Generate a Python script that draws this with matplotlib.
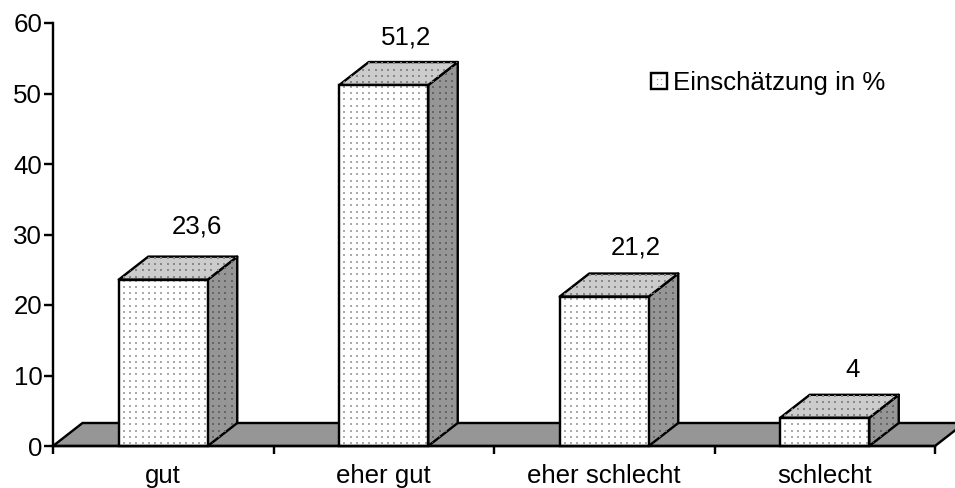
import numpy as np
import matplotlib
matplotlib.use("Agg")
import matplotlib.pyplot as plt
from matplotlib.patches import Polygon, Rectangle, Patch
from matplotlib.lines import Line2D
from matplotlib.legend_handler import HandlerBase

categories = ["gut", "eher gut", "eher schlecht", "schlecht"]
values = [23.6, 51.2, 21.2, 4]
value_labels = ["23,6", "51,2", "21,2", "4"]
yticks = [0, 10, 20, 30, 40, 50, 60]
series_name = "Einschätzung in %"

plt.rcParams["font.family"] = ["Liberation Sans", "DejaVu Sans"]
W, H = 955, 488
L, R, T, B = 53, 935, 23, 446
FS = 18.6
fig = plt.figure(figsize=(W / 100, H / 100), dpi=100)
ax = fig.add_axes([L / W, 1 - B / H, (R - L) / W, (B - T) / H])
ax.set_xlim(0, len(categories))
ax.set_ylim(0, 60)

px_x = (R - L) / len(categories)      # pixels per category
px_y = (B - T) / 60                   # pixels per value unit
dx, dy = 29.5 / px_x, 23 / px_y       # 3-D depth
bar_w = 89 / px_x
EDGE = 2.4 * 0.72
GREY = "#969696"
TOP = "#cccccc"

def dots(poly, x0, x1, y0, y1, color, z):
    xs = np.arange(x0 + 5 / px_x, x1, 6.25 / px_x)
    ys = np.arange(y0 + 3 / px_y, y1, 6.25 / px_y)
    gx, gy = np.meshgrid(xs, ys)
    s = ax.scatter(gx.ravel(), gy.ravel(), s=0.6, marker="s", color=color,
                   linewidths=0, zorder=z, clip_on=True)
    s.set_clip_path(poly)

# floor
floor = Polygon([(0, 0), (len(categories), 0), (len(categories) + dx, dy), (dx, dy)],
                closed=True, facecolor=GREY, edgecolor="black", lw=EDGE,
                clip_on=False, zorder=1, joinstyle="miter")
ax.add_patch(floor)

for i, v in enumerate(values):
    x0 = i + 0.5 - bar_w / 2
    x1 = x0 + bar_w
    side = Polygon([(x1, 0), (x1 + dx, dy), (x1 + dx, v + dy), (x1, v)], closed=True,
                   facecolor=GREY, edgecolor="black", lw=EDGE, clip_on=False, zorder=2,
                   joinstyle="round")
    top = Polygon([(x0, v), (x1, v), (x1 + dx, v + dy), (x0 + dx, v + dy)], closed=True,
                  facecolor=TOP, edgecolor="black", lw=EDGE, clip_on=False, zorder=2,
                  joinstyle="round")
    ax.add_patch(side)
    ax.add_patch(top)
    dots(side, x1, x1 + dx, 0, v + dy, "#666666", 2.5)
    dots(top, x0, x1 + dx, v, v + dy, "#888888", 2.5)
    ax.bar(i + 0.5, v, width=bar_w, color="white", edgecolor="none", zorder=3)
    front_dots = Rectangle((x0, 0), bar_w, v, transform=ax.transData, facecolor="none",
                           edgecolor="none")
    ax.add_patch(front_dots)
    dots(front_dots, x0, x1, 0, v, "#aaaaaa", 3.5)
    ax.add_patch(Rectangle((x0, 0), bar_w, v, facecolor="none", edgecolor="black",
                           lw=EDGE, zorder=4, clip_on=False))

# value labels
label_offsets = [(34, 30), (22, 25), (31, 26), (28, 25)]
for i, (v, t, off) in enumerate(zip(values, value_labels, label_offsets)):
    ax.annotate(t, (i + 0.5, v + dy), xytext=(off[0] * 0.72, off[1] * 0.72),
                textcoords="offset points", ha="center", va="center", fontsize=FS,
                color="black", zorder=6, annotation_clip=False)

# axes
for s in ("top", "right"):
    ax.spines[s].set_visible(False)
for s in ("left", "bottom"):
    ax.spines[s].set_linewidth(EDGE)
    ax.spines[s].set_zorder(5)
ax.patch.set_alpha(0)
ax.set_yticks(yticks)
ax.set_xticks(range(len(categories) + 1))
ax.set_xticklabels([])
ax.set_xticks([i + 0.5 for i in range(len(categories))], minor=True)
ax.set_xticklabels(categories, minor=True, fontsize=FS)
ax.tick_params(axis="x", which="major", length=6, width=EDGE, direction="out")
ax.tick_params(axis="x", which="minor", length=0, pad=13.2)
ax.tick_params(axis="y", length=6.5, width=EDGE, labelsize=FS, pad=1.2)

# legend
class DotBox(HandlerBase):
    def create_artists(self, legend, orig, xd, yd, w, h, fontsize, trans):
        r = Rectangle((-xd, -yd), w, h, facecolor="white", edgecolor="black",
                      lw=EDGE, transform=trans)
        d = Line2D([w * .35, w * .65, w * .35, w * .65], [h * .35, h * .35, h * .65, h * .65],
                   ls="none", marker="s", ms=0.9, mew=0, color="#999999", transform=trans)
        return [r, d]

handle = Patch(label=series_name)
ax.legend(handles=[handle], handler_map={Patch: DotBox()}, frameon=False, fontsize=FS,
          loc="center left", bbox_to_anchor=((651 - L) / (R - L), (B - 83) / (B - T)),
          borderpad=0, borderaxespad=0, handlelength=0.62, handleheight=0.62,
          handletextpad=0.22)

fig.savefig("out.png", dpi=100, facecolor="white")
